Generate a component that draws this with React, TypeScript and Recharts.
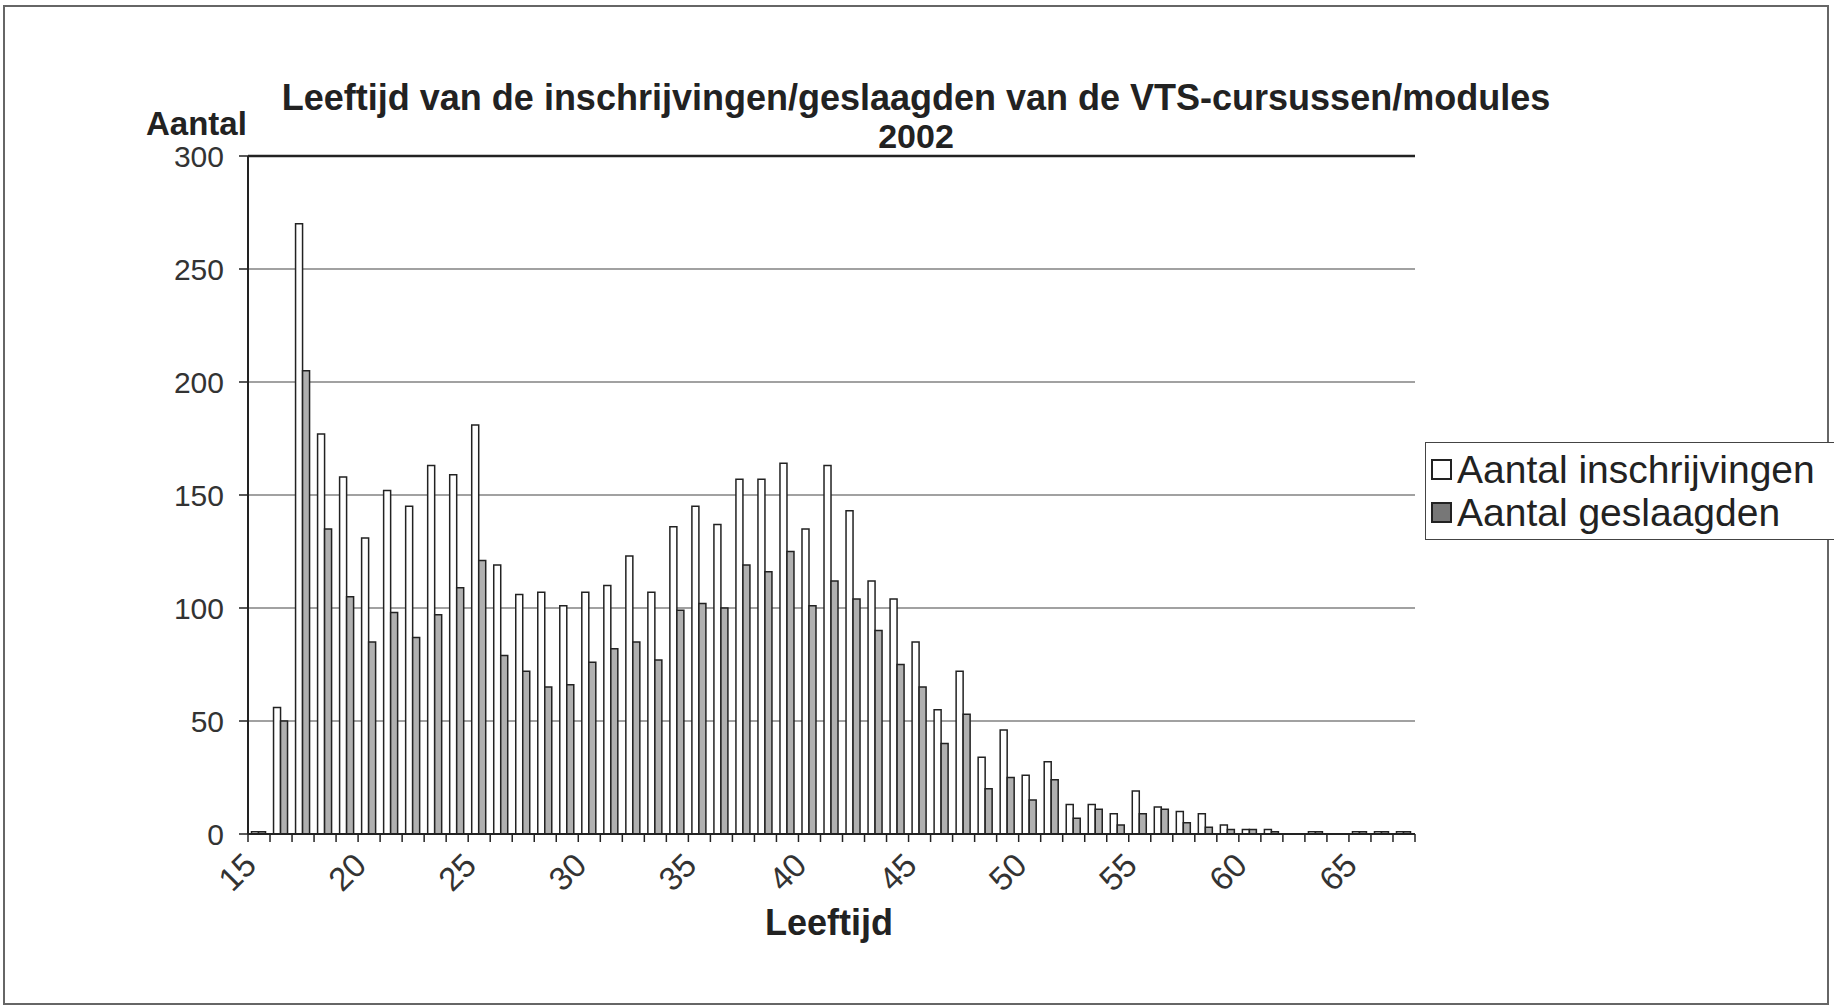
import { BarChart, Bar, XAxis, YAxis, CartesianGrid, Legend, ReferenceLine } from 'recharts';

// Leeftijd (categories)
const AGES = [
  15, 16, 17, 18, 19, 20, 21, 22, 23, 24, 25, 26, 27, 28, 29, 30, 31, 32, 33, 34, 35,
  36, 37, 38, 39, 40, 41, 42, 43, 44, 45, 46, 47, 48, 49, 50, 51, 52, 53, 54, 55, 56,
  57, 58, 59, 60, 61, 62, 63, 64, 65, 66, 67,
];

const INSCHRIJVINGEN = [
  1, 56, 270, 177, 158, 131, 152, 145, 163, 159, 181, 119, 106, 107, 101, 107, 110, 123, 107, 136, 145,
  137, 157, 157, 164, 135, 163, 143, 112, 104, 85, 55, 72, 34, 46, 26, 32, 13, 13, 9, 19, 12,
  10, 9, 4, 2, 2, 0, 1, 0, 1, 1, 1,
];

const GESLAAGDEN = [
  1, 50, 205, 135, 105, 85, 98, 87, 97, 109, 121, 79, 72, 65, 66, 76, 82, 85, 77, 99, 102,
  100, 119, 116, 125, 101, 112, 104, 90, 75, 65, 40, 53, 20, 25, 15, 24, 7, 11, 4, 9, 11,
  5, 3, 2, 2, 1, 0, 1, 0, 1, 1, 1,
];

const LABELED_AGES = [15, 20, 25, 30, 35, 40, 45, 50, 55, 60, 65];
const Y_TICKS = [0, 50, 100, 150, 200, 250, 300];

const SERIES = [
  { key: 'inschrijvingen', name: 'Aantal inschrijvingen', fill: '#ffffff', swatch: '#ffffff' },
  { key: 'geslaagden', name: 'Aantal geslaagden', fill: '#b0b0b0', swatch: '#777777' },
];

const W = 1834;
const H = 1006;
const PLOT_LEFT = 248;
const PLOT_RIGHT = 1415;
const PLOT_TOP = 156;
const PLOT_BOTTOM = 834;
const BAND = (PLOT_RIGHT - PLOT_LEFT) / AGES.length;
const FONT = '"Liberation Sans", Arial, sans-serif';
const INK = '#222';

const data = AGES.map((age, i) => ({
  age,
  inschrijvingen: INSCHRIJVINGEN[i],
  geslaagden: GESLAAGDEN[i],
}));

function AgeTick({ x, y, payload, index }: any) {
  const show = LABELED_AGES.includes(payload.value);
  const last = index === AGES.length - 1;
  const tx = x - 9;
  const ty = y + 25;
  return (
    <g>
      <line x1={x - BAND / 2} x2={x - BAND / 2} y1={y} y2={y + 8} stroke={INK} strokeWidth={1.5} />
      {last && <line x1={x + BAND / 2} x2={x + BAND / 2} y1={y} y2={y + 8} stroke={INK} strokeWidth={1.5} />}
      {show && (
        <text
          x={tx}
          y={ty}
          transform={`rotate(-45 ${tx} ${ty})`}
          textAnchor="end"
          dominantBaseline="central"
          fontSize={33}
          fontFamily={FONT}
          fill="#333"
        >
          {payload.value}
        </text>
      )}
    </g>
  );
}

function LegendBox() {
  return (
    <div
      style={{
        border: '1.5px solid #444',
        background: '#fff',
        padding: '5px 0 5px 5px',
        fontFamily: FONT,
        fontSize: 39,
        color: INK,
        lineHeight: '43px',
      }}
    >
      {SERIES.map(s => (
        <div key={s.key} style={{ display: 'flex', alignItems: 'center', whiteSpace: 'nowrap' }}>
          <span
            style={{
              display: 'inline-block',
              width: 21,
              height: 21,
              background: s.swatch,
              border: '2px solid #222',
              marginRight: 5,
              boxSizing: 'border-box',
            }}
          />
          {s.name}
        </div>
      ))}
    </div>
  );
}

const textStyle = {
  position: 'absolute' as const,
  fontFamily: FONT,
  fontWeight: 700,
  color: INK,
  whiteSpace: 'nowrap' as const,
  lineHeight: 1,
};

export default function App() {
  return (
    <div style={{ position: 'absolute', left: 0, top: 0, width: W, height: H, background: '#fff' }}>
      <div
        style={{
          position: 'absolute',
          left: 3,
          top: 5,
          width: W - 12,
          height: H - 10,
          border: '2px solid #666',
        }}
      />
      <BarChart
        width={W}
        height={H}
        data={data}
        margin={{ top: PLOT_TOP, right: W - PLOT_RIGHT, bottom: 0, left: 0 }}
        barCategoryGap="16%"
        barGap={0}
      >
        <CartesianGrid vertical={false} stroke="#444" strokeWidth={1.2} />
        <XAxis
          dataKey="age"
          interval={0}
          height={H - PLOT_BOTTOM}
          tickLine={false}
          tickSize={0}
          tickMargin={0}
          axisLine={{ stroke: INK, strokeWidth: 2 }}
          tick={<AgeTick />}
        />
        <YAxis
          width={PLOT_LEFT}
          domain={[0, 300]}
          ticks={Y_TICKS}
          interval={0}
          tickSize={9}
          tickMargin={15}
          axisLine={{ stroke: INK, strokeWidth: 2 }}
          tickLine={{ stroke: INK, strokeWidth: 1.5 }}
          tick={{ fontSize: 30, fontFamily: FONT, fill: '#333' }}
        />
        <YAxis
          yAxisId="frame"
          orientation="right"
          width={0}
          domain={[0, 300]}
          tick={false}
          tickLine={false}
          axisLine={{ stroke: INK, strokeWidth: 2 }}
        />
        <ReferenceLine y={300} stroke={INK} strokeWidth={2.5} />
        <Legend
          layout="vertical"
          align="center"
          verticalAlign="middle"
          content={<LegendBox />}
          wrapperStyle={{ left: 1425, top: 442, width: 420 }}
        />
        {SERIES.map(s => (
          <Bar
            key={s.key}
            dataKey={s.key}
            name={s.name}
            fill={s.fill}
            stroke={INK}
            strokeWidth={1.5}
            isAnimationActive={false}
          />
        ))}
      </BarChart>
      <div style={{ ...textStyle, left: 916, top: 98, fontSize: 36, transform: 'translate(-50%, -50%)' }}>
        Leeftijd van de inschrijvingen/geslaagden van de VTS-cursussen/modules
      </div>
      <div style={{ ...textStyle, left: 916, top: 136, fontSize: 34, transform: 'translate(-50%, -50%)' }}>
        2002
      </div>
      <div style={{ ...textStyle, left: 146, top: 123, fontSize: 33, transform: 'translateY(-50%)' }}>
        Aantal
      </div>
      <div style={{ ...textStyle, left: 829, top: 923, fontSize: 36, transform: 'translate(-50%, -50%)' }}>
        Leeftijd
      </div>
    </div>
  );
}
